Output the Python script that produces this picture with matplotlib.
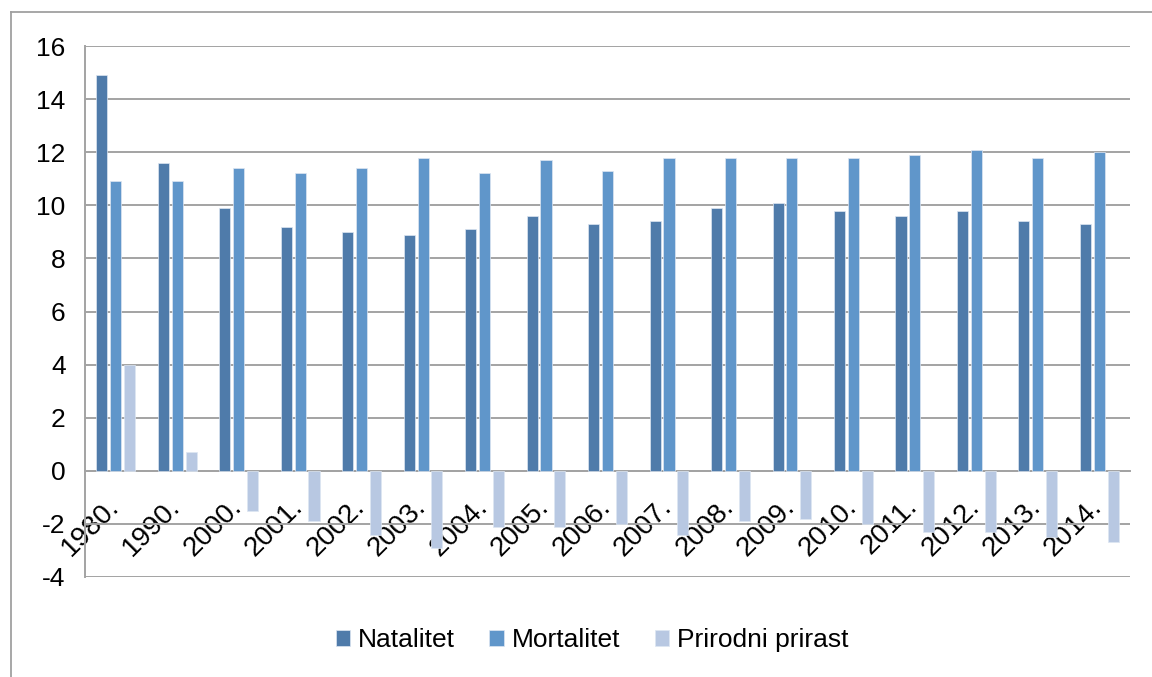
import numpy as np
import matplotlib
matplotlib.use("Agg")
import matplotlib.pyplot as plt
from matplotlib.transforms import ScaledTranslation
from matplotlib.lines import Line2D

years = ["1980.", "1990.", "2000.", "2001.", "2002.", "2003.", "2004.", "2005.", "2006.",
         "2007.", "2008.", "2009.", "2010.", "2011.", "2012.", "2013.", "2014."]
natalitet = [14.9, 11.6, 9.9, 9.2, 9.0, 8.9, 9.1, 9.6, 9.3, 9.4, 9.9, 10.1, 9.8, 9.6, 9.8, 9.4, 9.3]
mortalitet = [10.9, 10.9, 11.4, 11.2, 11.4, 11.8, 11.2, 11.7, 11.3, 11.8, 11.8, 11.8, 11.8, 11.9, 12.1, 11.8, 12.0]
prirast = [4.0, 0.7, -1.5, -1.9, -2.4, -2.9, -2.1, -2.1, -2.0, -2.4, -1.9, -1.8, -2.0, -2.3, -2.3, -2.5, -2.7]
series_names = ["Natalitet", "Mortalitet", "Prirodni prirast"]
colors = ["#4F7BAA", "#6096CA", "#B8C8E2"]
yticks = list(range(-4, 17, 2))

plt.rcParams['font.family'] = ['Liberation Sans', 'DejaVu Sans']
FS = 19

fig = plt.figure(figsize=(11.52, 6.77), dpi=100)
ax = fig.add_axes([85/1152, 1-577/677, (1130-85)/1152, (577-46)/677])

x = np.arange(len(years))
w = 0.18
off = 0.225
for i, (vals, name, c) in enumerate(zip([natalitet, mortalitet, prirast], series_names, colors)):
    ax.bar(x + (i-1)*off, vals, width=w, color=c, label=name,
           edgecolor='#DDE6F2', linewidth=0.5, zorder=1.5)

ax.set_xlim(-0.5, len(years)-0.5)
ax.set_ylim(-4, 16)
ax.set_yticks(yticks)
ax.set_yticklabels([str(v) for v in yticks])
ax.yaxis.grid(True, color='#A3A3A3', linewidth=1.4, zorder=0)
ax.set_axisbelow(True)

for s in ['top', 'right']:
    ax.spines[s].set_visible(False)
ax.spines['left'].set_color('#A3A3A3')
ax.spines['left'].set_linewidth(1.4)
ax.spines['bottom'].set_position(('data', 0))
ax.spines['bottom'].set_color('#A3A3A3')
ax.spines['bottom'].set_linewidth(1.4)
ax.spines['bottom'].set_zorder(1.4)

ax.tick_params(axis='y', length=0, pad=14, labelsize=FS)
ax.tick_params(axis='x', length=0, pad=23, labelsize=20)
ax.set_xticks(x)
ax.set_xticklabels(years, rotation=45, ha='right', va='center', rotation_mode='anchor')
for lab in ax.get_xticklabels():
    lab.set_transform(lab.get_transform() + ScaledTranslation(-0.01, 0.0, fig.dpi_scale_trans))
    lab.set_zorder(5)

fig.legend(loc='center', bbox_to_anchor=(0.514, 1-640/677), ncol=3, frameon=False,
           fontsize=FS, handlelength=0.55, handleheight=0.55, handletextpad=0.3,
           columnspacing=1.3)

# outer chart frame (left and top edges visible)
fig.add_artist(Line2D([11/1152, 11/1152], [0, 1-12/677], transform=fig.transFigure,
                      color='#A0A0A0', linewidth=1.3))
fig.add_artist(Line2D([11/1152, 1], [1-12/677, 1-12/677], transform=fig.transFigure,
                      color='#A0A0A0', linewidth=1.3))

fig.savefig("out.png", dpi=100)
